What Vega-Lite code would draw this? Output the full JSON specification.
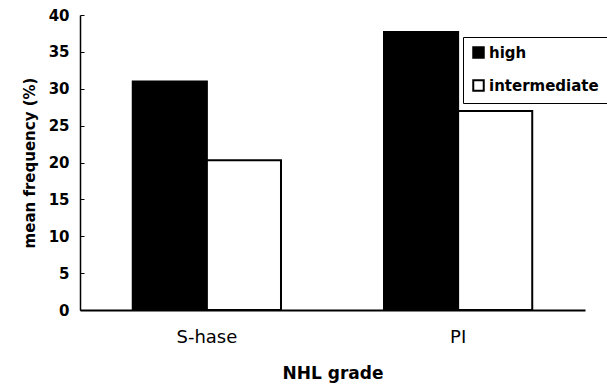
{
  "$schema": "https://vega.github.io/schema/vega-lite/v6.json",
  "width": 505,
  "height": 295,
  "autosize": {"type": "none"},
  "padding": {"left": 80, "top": 15, "right": 22, "bottom": 77},
  "background": "white",
  "data": {"values": [
    {"marker": "S-hase", "grade": "high", "value": 31},
    {"marker": "S-hase", "grade": "intermediate", "value": 20.3},
    {"marker": "PI", "grade": "high", "value": 37.7},
    {"marker": "PI", "grade": "intermediate", "value": 27}
  ]},
  "config": {
    "view": {"stroke": null},
    "font": "DejaVu Sans"
  },
  "mark": {"type": "bar", "stroke": "black", "strokeWidth": 2},
  "encoding": {
    "x": {
      "field": "marker", "type": "nominal", "sort": ["S-hase", "PI"],
      "scale": {"paddingInner": 0.41, "paddingOuter": 0.21},
      "axis": {
        "title": "NHL grade", "labelAngle": 0, "ticks": false,
        "domainColor": "black", "domainWidth": 2,
        "labelFontSize": 18, "labelColor": "black", "labelPadding": 18,
        "titleFontSize": 17, "titleFontWeight": "bold", "titleColor": "black", "titlePadding": 19
      }
    },
    "xOffset": {"field": "grade", "type": "nominal", "sort": ["high", "intermediate"], "scale": {"paddingInner": 0}},
    "y": {
      "field": "value", "type": "quantitative",
      "scale": {"domain": [0, 40], "nice": false},
      "axis": {
        "title": "mean frequency (%)", "values": [0, 5, 10, 15, 20, 25, 30, 35, 40],
        "grid": false, "domainColor": "black", "domainWidth": 1.5,
        "tickColor": "black", "tickSize": -4, "labelPadding": 15,
        "labelFontSize": 15, "labelFontWeight": "bold", "labelColor": "black",
        "titleFontSize": 15, "titleFontWeight": "bold", "titleColor": "black", "titlePadding": 11
      }
    },
    "fill": {
      "field": "grade", "type": "nominal", "sort": ["high", "intermediate"],
      "scale": {"range": ["black", "white"]},
      "legend": {
        "title": null, "orient": "none", "legendX": 383, "legendY": 22,
        "strokeColor": "black", "fillColor": "white", "padding": 8,
        "symbolType": "square", "symbolSize": 110, "symbolStrokeColor": "black", "symbolStrokeWidth": 2,
        "labelFontSize": 15, "labelFontWeight": "bold", "labelColor": "black",
        "rowPadding": 14, "labelOffset": 3
      }
    }
  }
}
